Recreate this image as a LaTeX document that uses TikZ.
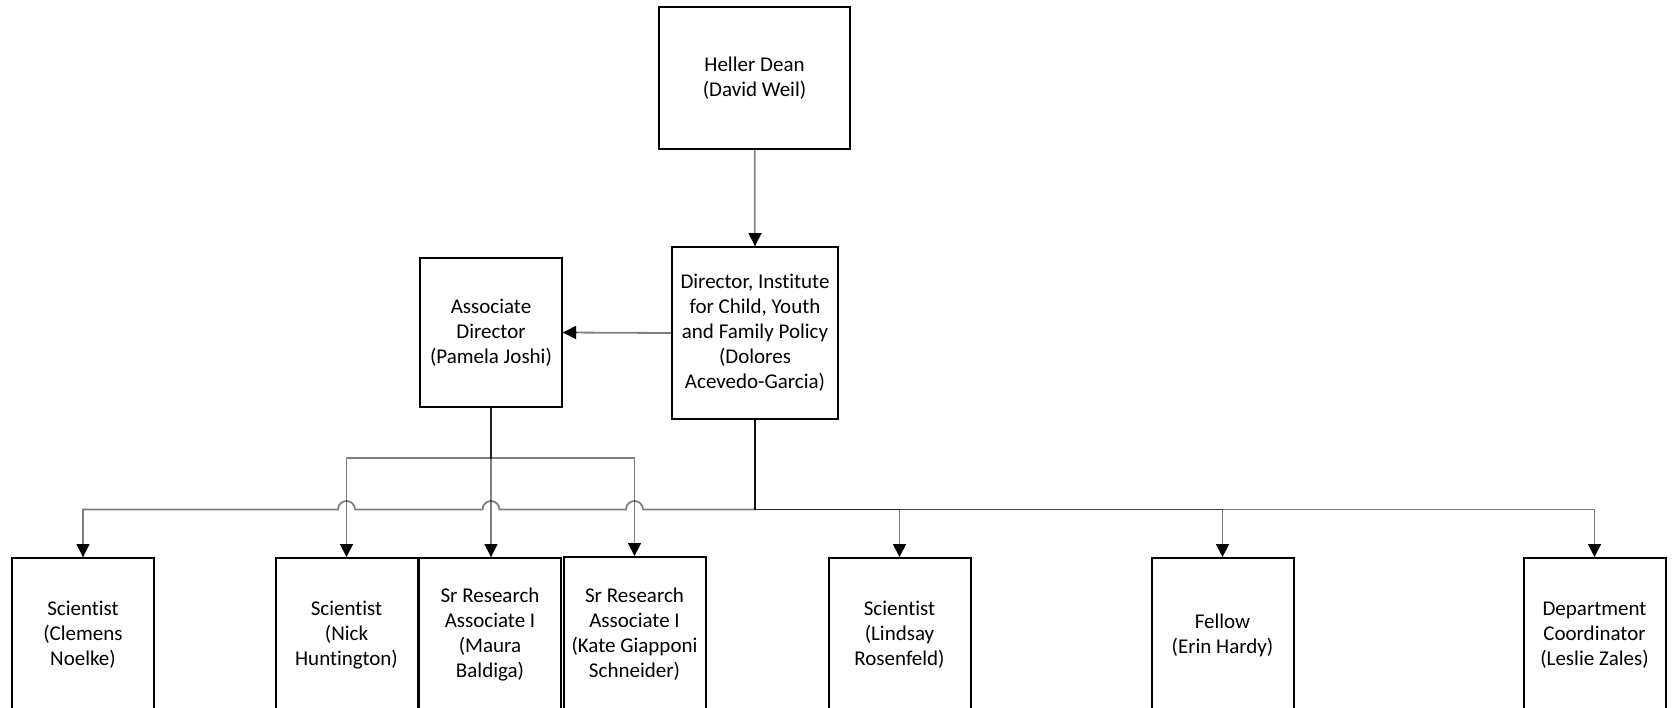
\documentclass[tikz,border=0pt]{standalone}
\usepackage{fontspec}
\setmainfont[Ligatures=NoCommon]{Carlito}
\usetikzlibrary{arrows.meta,calc}

\begin{document}
\begin{tikzpicture}[x=1pt,y=-1pt,
  unit/.style n args={2}{draw,line width=2pt,minimum width=#1pt,minimum height=#2pt,inner sep=1pt,align=center,font=\fontsize{21}{25}\selectfont},
  link/.style={draw=black,draw opacity=0.5,line width=1.8pt},
  tip/.style={-{Triangle[length=13pt,width=13pt]},line width=1.8pt},
  hop/.style={start angle=0,end angle=180,radius=8.5pt}]
\useasboundingbox (0,0) rectangle (1678,707);

\node[unit={191}{142}] (dean) at (754.5,78) {Heller Dean\\(David Weil)};
\node[unit={166}{172}] (dir) at (755,333) {Director, Institute\\for Child, Youth\\and Family Policy\\(Dolores\\Acevedo-Garcia)};
\node[unit={142}{149}] (assoc) at (491,332.5) {Associate\\Director\\(Pamela Joshi)};

\node[unit={142}{154}] (clem) at (83,635) {Scientist\\(Clemens\\Noelke)};
\node[unit={142}{154}] (nick) at (346.5,635) {Scientist\\(Nick\\Huntington)};
\node[unit={142}{154}] (maura) at (490,635) {Sr Research\\Associate I\\(Maura\\Baldiga)};
\node[unit={142}{154}] (kate) at (634.5,634) {Sr Research\\Associate I\\(Kate Giapponi\\Schneider)};
\node[unit={142}{154}] (lind) at (899.5,635) {Scientist\\(Lindsay\\Rosenfeld)};
\node[unit={142}{154}] (erin) at (1222.5,635) {Fellow\\(Erin Hardy)};
\node[unit={142}{154}] (leslie) at (1594.5,635) {Department\\Coordinator\\(Leslie Zales)};

\coordinate (upbus) at (0,458);
\coordinate (lowbus) at (0,509.5);

\draw[link] (dean) -- (dir);
\draw[link] (dir.west) -- (assoc.east);

\draw[link] (assoc.south) -- (assoc.south |- upbus) -| (nick.north);
\draw[link] (assoc.south) -- (assoc.south |- upbus) -| (kate.north);
\draw[link] (assoc.south) -- (assoc.south |- maura.north);

\draw[link] (dir.south) -- (dir.south |- lowbus)
   -- ([xshift=8.5pt]kate.north |- lowbus) arc[hop]
   -- ([xshift=8.5pt]assoc.south |- lowbus) arc[hop]
   -- ([xshift=8.5pt]nick.north |- lowbus) arc[hop]
   -- (clem.north |- lowbus) -- (clem.north);
\foreach \n in {lind,erin,leslie}
   \draw[link] (dir.south) -- (dir.south |- lowbus) -| (\n.north);

\foreach \n in {dir,clem,nick,kate,lind,erin,leslie}
   \draw[tip] (\n.north) ++(0,-13) -- (\n.north);
\draw[tip] (assoc.south |- maura.north) ++(0,-13) -- (assoc.south |- maura.north);
\draw[tip] (assoc.east) ++(13,0) -- (assoc.east);
\end{tikzpicture}
\end{document}
